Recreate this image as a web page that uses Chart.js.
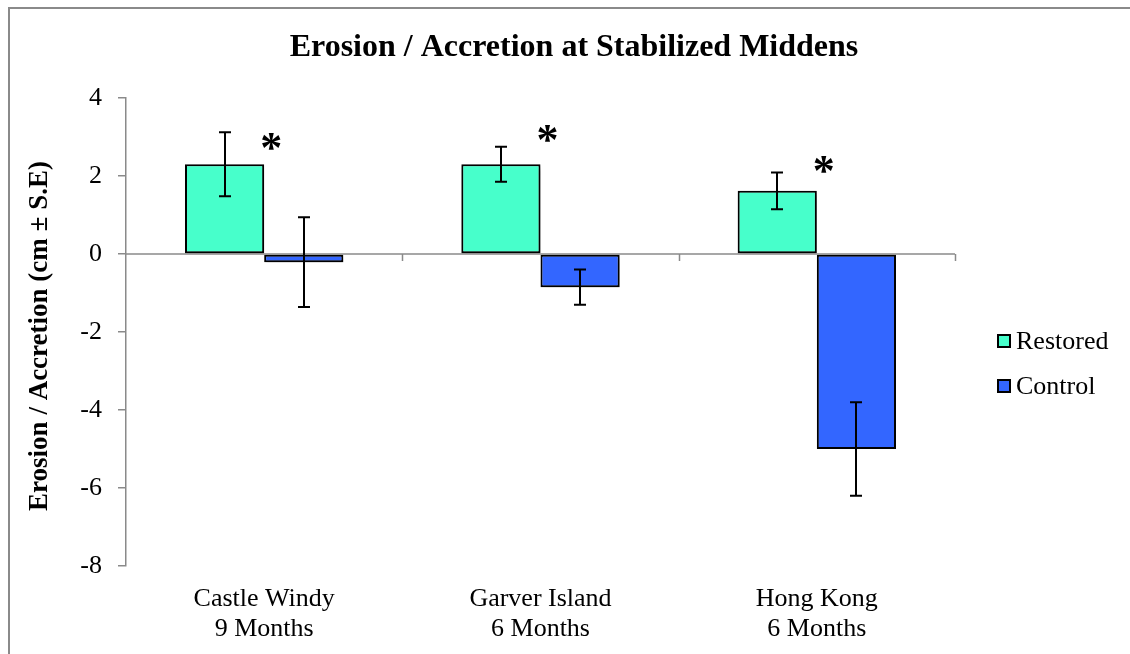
<!DOCTYPE html>
<html>
<head>
<meta charset="utf-8">
<script src="https://cdn.jsdelivr.net/npm/chart.js@4.4.1/dist/chart.umd.min.js"></script>
<style>
  html, body { margin: 0; padding: 0; background: #ffffff; }
  #wrap { position: relative; width: 1130px; height: 654px; }
</style>
</head>
<body>
<div id="wrap"><canvas id="c" width="1130" height="654"></canvas></div>
<script>
// ---- data ----
const categories = [["Castle Windy", "9 Months"], ["Garver Island", "6 Months"], ["Hong Kong", "6 Months"]];
const seriesNames = ["Restored", "Control"];
const restoredValues = [2.3, 2.3, 1.62];
const restoredSE = [0.82, 0.45, 0.47];
const controlValues = [-0.21, -0.85, -5.0];
const controlSE = [1.15, 0.45, 1.2];
const significance = ["*", "*", "*"];
const starLevels = [2.92, 3.13, 2.33];
const yTicks = [4, 2, 0, -2, -4, -6, -8];
const chartTitle = "Erosion / Accretion at Stabilized Middens";
const yTitle = "Erosion / Accretion (cm \u00B1 S.E)";

const SERIF = "'Liberation Serif', 'Times New Roman', serif";
const GRAY = "#8a8a8a";
const errors = [restoredSE, controlSE];

const decorPlugin = {
  id: 'decor',
  beforeDraw(chart) {
    const ctx = chart.ctx;
    ctx.save();
    ctx.fillStyle = '#fff';
    ctx.fillRect(0, 0, chart.width, chart.height);
    ctx.strokeStyle = GRAY;
    ctx.lineWidth = 2;
    ctx.beginPath();
    ctx.moveTo(9, 700); ctx.lineTo(9, 8); ctx.lineTo(1140, 8);
    ctx.stroke();
    // title
    ctx.fillStyle = '#000';
    ctx.font = "bold 32px " + SERIF;
    ctx.textAlign = 'center';
    ctx.textBaseline = 'middle';
    ctx.fillText(chartTitle, 574, 48);
    // y title
    ctx.translate(40, 336);
    ctx.rotate(-Math.PI / 2);
    ctx.font = "bold 27px " + SERIF;
    ctx.fillText(yTitle, 0, 0);
    ctx.restore();
  },
  beforeDatasetsDraw(chart) {
    const ctx = chart.ctx;
    const a = chart.chartArea;
    const y0 = chart.scales.y.getPixelForValue(0);
    ctx.save();
    ctx.strokeStyle = GRAY;
    ctx.lineWidth = 1.5;
    ctx.beginPath();
    ctx.moveTo(a.left, y0);
    ctx.lineTo(a.right, y0);
    const n = categories.length;
    for (let i = 1; i <= n; i++) {
      const x = Math.round(a.left + (a.right - a.left) * i / n) + 0.5;
      ctx.moveTo(x, y0);
      ctx.lineTo(x, y0 + 7);
    }
    ctx.stroke();
    ctx.restore();
    ctx.save();
    ctx.shadowColor = 'rgba(0,0,0,0.35)';
    ctx.shadowBlur = 5;
    ctx.shadowOffsetX = 2;
    ctx.shadowOffsetY = 3;
  },
  afterDatasetsDraw(chart) {
    const ctx = chart.ctx;
    ctx.restore();
    const ys = chart.scales.y;
    ctx.save();
    ctx.strokeStyle = '#000';
    ctx.lineWidth = 2;
    chart.data.datasets.forEach((ds, di) => {
      const meta = chart.getDatasetMeta(di);
      meta.data.forEach((bar, i) => {
        const v = ds.data[i];
        const e = errors[di][i];
        const x = Math.round(bar.x);
        const yt = ys.getPixelForValue(v + e);
        const yb = ys.getPixelForValue(v - e);
        ctx.beginPath();
        ctx.moveTo(x, yt); ctx.lineTo(x, yb);
        ctx.moveTo(x - 6, yt); ctx.lineTo(x + 6, yt);
        ctx.moveTo(x - 6, yb); ctx.lineTo(x + 6, yb);
        ctx.stroke();
      });
    });
    // significance marks
    const xs = chart.scales.x;
    ctx.fillStyle = '#000';
    const fs = 44;
    ctx.font = "bold " + fs + "px " + SERIF;
    ctx.textAlign = 'center';
    ctx.textBaseline = 'alphabetic';
    significance.forEach((s, i) => {
      const x = xs.getPixelForValue(i) + 7;
      const y = ys.getPixelForValue(starLevels[i]);
      ctx.fillText(s, x, y + 0.5 * fs);
    });
    // legend
    ctx.font = "26px " + SERIF;
    ctx.textAlign = 'left';
    ctx.textBaseline = 'middle';
    const ly = [341, 386];
    chart.data.datasets.forEach((ds, di) => {
      const bx = 998, by = ly[di] - 6;
      ctx.fillStyle = ds.backgroundColor;
      ctx.fillRect(bx, by, 12, 12);
      ctx.strokeStyle = '#000';
      ctx.lineWidth = 2;
      ctx.strokeRect(bx, by, 12, 12);
      ctx.fillStyle = '#000';
      ctx.fillText(ds.label, 1016, ly[di] + 1);
    });
    ctx.restore();
  }
};

new Chart(document.getElementById('c'), {
  type: 'bar',
  data: {
    labels: categories,
    datasets: [
      { label: seriesNames[0], data: restoredValues, backgroundColor: '#47ffcb', borderColor: '#000', borderWidth: 2, borderSkipped: false },
      { label: seriesNames[1], data: controlValues, backgroundColor: '#3366ff', borderColor: '#000', borderWidth: 2, borderSkipped: false }
    ]
  },
  options: {
    responsive: false,
    animation: false,
    events: [],
    datasets: { bar: { categoryPercentage: 0.573, barPercentage: 1.0 } },
    layout: { padding: { top: 98, left: 0, right: 175, bottom: 0 } },
    plugins: { legend: { display: false }, title: { display: false }, tooltip: { enabled: false } },
    scales: {
      x: {
        grid: { display: false, drawTicks: false },
        border: { display: false },
        ticks: { color: '#000', font: { family: SERIF, size: 26, lineHeight: 1.154 }, padding: 18, maxRotation: 0, autoSkip: false },
        afterFit(scale) { scale.height = 654 - 566; }
      },
      y: {
        min: -8, max: 4,
        afterBuildTicks(scale) { scale.ticks = yTicks.map(v => ({ value: v })); },
        grid: { drawOnChartArea: false, color: GRAY, tickLength: 8, lineWidth: 1.5 },
        border: { display: true, color: GRAY, width: 1.5 },
        ticks: { color: '#000', font: { family: SERIF, size: 26 }, padding: 16 },
        afterFit(scale) { scale.width = 126; }
      }
    }
  },
  plugins: [decorPlugin]
});
</script>
</body>
</html>
